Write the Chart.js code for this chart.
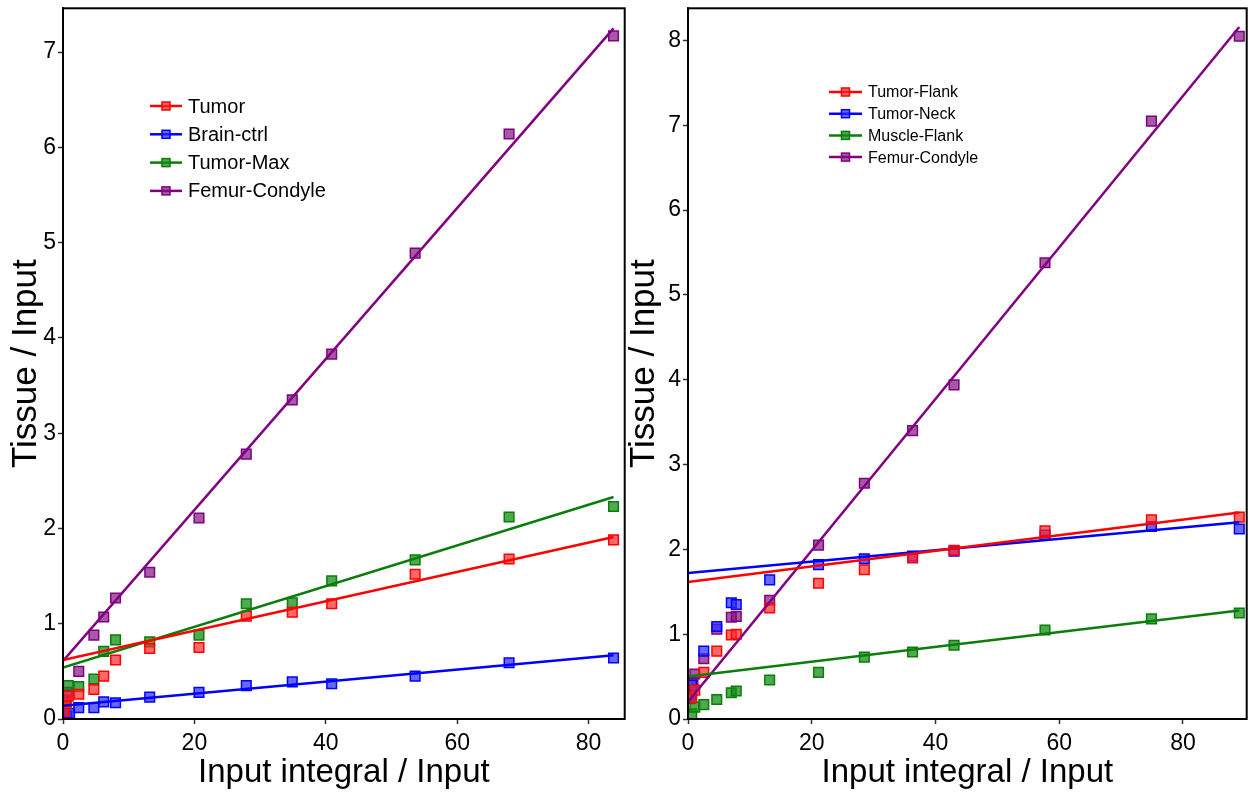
<!DOCTYPE html>
<html>
<head>
<meta charset="utf-8">
<script src="https://cdn.jsdelivr.net/npm/chart.js@4.4.1/dist/chart.umd.min.js"></script>
<style>
  html, body { margin: 0; padding: 0; background: #fff; }
  #wrap { position: relative; width: 1251px; height: 796px; overflow: hidden; }
  canvas { position: absolute; top: 0; }
</style>
</head>
<body>
<div id="wrap">
  <canvas id="leftChart" width="633" height="796" style="left:0"></canvas>
  <canvas id="rightChart" width="629" height="796" style="left:626px"></canvas>
</div>
<script>
// ---- left panel data ----
const leftXTicks = [0, 20, 40, 60, 80];
const leftYTicks = [0, 1, 2, 3, 4, 5, 6, 7];
const leftTumorX = [0.2, 0.5, 0.8, 2.4, 4.7, 6.2, 8.0, 13.2, 20.7, 27.9, 34.9, 40.9, 53.6, 67.9, 83.8];
const leftTumorY = [0.08, 0.16, 0.24, 0.26, 0.31, 0.45, 0.62, 0.74, 0.75, 1.08, 1.12, 1.21, 1.52, 1.68, 1.88];
const leftBrainX = [0.2, 0.6, 1.0, 2.4, 4.7, 6.2, 8.0, 13.2, 20.7, 27.9, 34.9, 40.9, 53.6, 67.9, 83.8];
const leftBrainY = [0.01, 0.03, 0.06, 0.12, 0.12, 0.18, 0.17, 0.23, 0.28, 0.35, 0.39, 0.37, 0.45, 0.59, 0.64];
const leftMaxX = [0.1, 0.3, 0.8, 2.4, 4.7, 6.2, 8.0, 13.2, 20.7, 27.9, 34.9, 40.9, 53.6, 67.9, 83.8];
const leftMaxY = [0.05, 0.15, 0.35, 0.34, 0.42, 0.71, 0.83, 0.81, 0.88, 1.21, 1.22, 1.45, 1.67, 2.12, 2.23];
const leftFemurX = [0.1, 0.2, 0.4, 0.6, 2.4, 4.7, 6.2, 8.0, 13.2, 20.7, 27.9, 34.9, 40.9, 53.6, 67.9, 83.8];
const leftFemurY = [0.05, 0.12, 0.2, 0.28, 0.50, 0.88, 1.07, 1.27, 1.54, 2.11, 2.78, 3.35, 3.83, 4.89, 6.14, 7.17];
// fitted lines: value at x = 0 and at the last point
const leftFitX = [0, 83.8];
const leftTumorFit = [0.62, 1.91];
const leftBrainFit = [0.14, 0.67];
const leftMaxFit = [0.54, 2.33];
const leftFemurFit = [0.61, 7.25];

// ---- right panel data ----
const rightXTicks = [0, 20, 40, 60, 80];
const rightYTicks = [0, 1, 2, 3, 4, 5, 6, 7, 8];
const rightFlankX = [0.6, 1.1, 2.55, 4.65, 7.0, 7.8, 13.2, 21.1, 28.5, 36.3, 43.0, 57.7, 74.9, 89.1];
const rightFlankY = [0.25, 0.34, 0.55, 0.80, 0.99, 1.00, 1.31, 1.60, 1.76, 1.90, 1.99, 2.22, 2.35, 2.38];
const rightNeckX = [0.4, 0.6, 2.55, 4.65, 7.0, 7.8, 13.2, 21.1, 28.5, 36.3, 43.0, 57.7, 74.9, 89.1];
const rightNeckY = [0.28, 0.40, 0.80, 1.09, 1.37, 1.35, 1.64, 1.82, 1.89, 1.92, 1.98, 2.17, 2.27, 2.24];
const rightMuscleX = [0.6, 1.1, 2.55, 4.65, 7.0, 7.8, 13.2, 21.1, 28.5, 36.3, 43.0, 57.7, 74.9, 89.1];
const rightMuscleY = [0.06, 0.14, 0.17, 0.23, 0.31, 0.33, 0.46, 0.55, 0.73, 0.79, 0.87, 1.05, 1.18, 1.25];
const rightFemurX = [0.3, 0.5, 0.8, 1.1, 2.55, 4.65, 7.0, 7.8, 13.2, 21.1, 28.5, 36.3, 43.0, 57.7, 74.9, 89.1];
const rightFemurY = [0.24, 0.32, 0.43, 0.53, 0.71, 1.06, 1.20, 1.21, 1.40, 2.05, 2.78, 3.40, 3.94, 5.38, 7.05, 8.05];
const rightFitX = [0, 89.1];
const rightFlankFit = [1.615, 2.435];
const rightNeckFit = [1.72, 2.32];
const rightMuscleFit = [0.50, 1.28];
const rightFemurFit = [0.2, 8.16];

const FONT = "'Liberation Sans', Arial, sans-serif";
const RED = ['#ff0000', 'rgba(255,40,40,0.7)'];
const BLUE = ['#0000ff', 'rgba(40,40,255,0.7)'];
const GREEN = ['#0a7d0a', 'rgba(20,140,20,0.75)'];
const PURPLE = ['#800080', 'rgba(128,20,128,0.7)'];

const pts = (xs, ys) => xs.map((x, i) => ({ x, y: ys[i] }));

function scatterSet(label, xs, ys, col) {
    return {
        label, data: pts(xs, ys), showLine: false, legendItem: true,
        pointStyle: 'rect', pointRadius: 6.8, pointHoverRadius: 6.8,
        pointBorderWidth: 1.5, borderColor: col[0], backgroundColor: col[1], order: 2
    };
}
function fitSet(xs, ys, col) {
    return {
        data: pts(xs, ys), showLine: true, pointRadius: 0, borderColor: col[0],
        borderWidth: 2.5, backgroundColor: col[0], order: 1
    };
}

// box around the plot area (top/right edges)
const framePlugin = {
    id: 'frame',
    afterDraw(chart) {
        const a = chart.chartArea, ctx = chart.ctx;
        ctx.save();
        ctx.strokeStyle = '#000';
        ctx.lineWidth = 2;
        ctx.strokeRect(a.left, a.top, a.right - a.left, a.bottom - a.top);
        ctx.restore();
    }
};

// legend drawn inside the plot area
const boxLegend = {
    id: 'boxLegend',
    afterDraw(chart, args, opts) {
        const ctx = chart.ctx;
        ctx.save();
        ctx.font = `${opts.size}px ${FONT}`;
        ctx.textBaseline = 'middle';
        let row = 0;
        chart.data.datasets.forEach(ds => {
            if (!ds.legendItem) return;
            const y = opts.y + row * opts.row;
            ctx.strokeStyle = ds.borderColor;
            ctx.lineWidth = 2.5;
            ctx.beginPath();
            ctx.moveTo(opts.x, y);
            ctx.lineTo(opts.x + opts.len, y);
            ctx.stroke();
            const s = opts.mark;
            ctx.fillStyle = ds.backgroundColor;
            ctx.fillRect(opts.x + opts.len / 2 - s / 2, y - s / 2, s, s);
            ctx.lineWidth = 1.5;
            ctx.strokeRect(opts.x + opts.len / 2 - s / 2, y - s / 2, s, s);
            ctx.fillStyle = '#000';
            ctx.fillText(ds.label, opts.x + opts.len + 6, y + 1);
            row++;
        });
        ctx.restore();
    }
};

function axisOpts(ticks, max, title, isX, cfg) {
    return {
        type: 'linear', min: 0, max,
        afterBuildTicks: s => { s.ticks = ticks.map(v => ({ value: v })); },
        afterFit: s => {
            if (isX) { s.height = cfg.xh; s.paddingLeft = 0; s.paddingRight = 0; }
            else { s.width = cfg.yw; s.paddingTop = 0; s.paddingBottom = 0; }
        },
        grid: { drawOnChartArea: false, drawTicks: true, tickLength: 5, tickWidth: 1.5, tickColor: '#333' },
        border: { color: '#333', width: 2 },
        ticks: { color: '#000', font: { family: FONT, size: 23 }, padding: isX ? 6 : 2 },
        title: {
            display: true, text: title, color: '#000',
            font: { family: FONT, size: isX ? 33 : 35, lineHeight: 1 },
            padding: isX ? { top: 0, bottom: 7 } : { top: cfg.tp, bottom: 0 }
        }
    };
}

function makeChart(id, datasets, cfg) {
    return new Chart(document.getElementById(id), {
        type: 'scatter',
        data: { datasets },
        options: {
            responsive: false, animation: false, devicePixelRatio: 1,
            layout: { padding: { top: 8, right: cfg.pr, left: 0, bottom: 0 } },
            plugins: { legend: { display: false }, tooltip: { enabled: false }, boxLegend: cfg.legend },
            scales: {
                x: axisOpts(cfg.xTicks, cfg.xMax, 'Input integral / Input', true, cfg),
                y: axisOpts(cfg.yTicks, cfg.yMax, 'Tissue / Input', false, cfg)
            }
        },
        plugins: [framePlugin, boxLegend]
    });
}

makeChart('leftChart', [
    scatterSet('Tumor', leftTumorX, leftTumorY, RED),
    scatterSet('Brain-ctrl', leftBrainX, leftBrainY, BLUE),
    scatterSet('Tumor-Max', leftMaxX, leftMaxY, GREEN),
    scatterSet('Femur-Condyle', leftFemurX, leftFemurY, PURPLE),
    fitSet(leftFitX, leftTumorFit, RED),
    fitSet(leftFitX, leftBrainFit, BLUE),
    fitSet(leftFitX, leftMaxFit, GREEN),
    fitSet(leftFitX, leftFemurFit, PURPLE)
], {
    xTicks: leftXTicks, yTicks: leftYTicks, xMax: 85.5, yMax: 7.46,
    xh: 77, yw: 63, tp: 9, pr: 4,
    legend: { x: 150, y: 106, row: 28.3, size: 20, len: 32, mark: 8 }
});

makeChart('rightChart', [
    scatterSet('Tumor-Flank', rightFlankX, rightFlankY, RED),
    scatterSet('Tumor-Neck', rightNeckX, rightNeckY, BLUE),
    scatterSet('Muscle-Flank', rightMuscleX, rightMuscleY, GREEN),
    scatterSet('Femur-Condyle', rightFemurX, rightFemurY, PURPLE),
    fitSet(rightFitX, rightFlankFit, RED),
    fitSet(rightFitX, rightNeckFit, BLUE),
    fitSet(rightFitX, rightMuscleFit, GREEN),
    fitSet(rightFitX, rightFemurFit, PURPLE)
], {
    xTicks: rightXTicks, yTicks: rightYTicks, xMax: 90.3, yMax: 8.38,
    xh: 77, yw: 62, tp: 1, pr: 5,
    legend: { x: 203, y: 92, row: 21.7, size: 16, len: 33, mark: 8 }
});
</script>
</body>
</html>
